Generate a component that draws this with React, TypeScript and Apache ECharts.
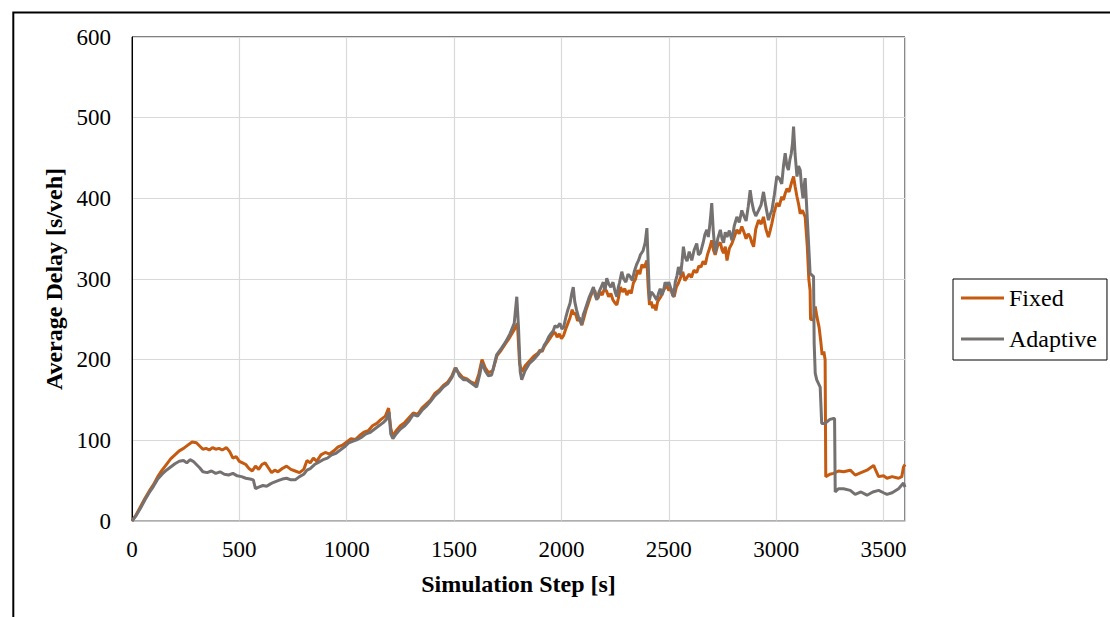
import React, { useEffect, useRef } from "react";
import * as echarts from "echarts";

const xTicks = [0, 500, 1000, 1500, 2000, 2500, 3000, 3500];
const yTicks = [0, 100, 200, 300, 400, 500, 600];
const seriesNames = ["Fixed", "Adaptive"];

const fixedData: [number, number][] = [
  [0,0],[20,8],[40,18],[60,28],[80,37],[100,45],[120,55],[140,63],[160,70],[180,77],[200,82],[220,87],[240,90],[260,94],[280,98],[300,97],[315,93],[330,89],[345,90],[360,88],[375,91],[390,89],[405,90],[420,88],[440,91],[455,86],[470,78],[485,80],[500,74],[515,72],[530,70],[545,65],[560,62],[575,68],[590,64],[605,70],[620,72],[635,66],[650,60],[665,63],[680,61],[700,65],[720,68],[740,64],[760,62],[780,60],[800,64],[815,75],[830,72],[845,78],[860,74],[880,82],[900,85],[920,83],[940,87],[960,92],[980,94],[1000,98],[1020,102],[1040,101],[1060,106],[1080,110],[1100,112],[1120,118],[1140,121],[1160,126],[1180,130],[1195,140],[1205,115],[1215,105],[1230,112],[1250,118],[1270,122],[1290,128],[1310,134],[1330,132],[1350,140],[1370,145],[1390,150],[1410,158],[1430,162],[1450,168],[1470,172],[1490,180],[1505,190],[1520,184],[1540,178],[1560,176],[1580,172],[1600,170],[1615,182],[1630,200],[1645,190],[1660,184],[1680,186],[1700,205],[1720,212],[1740,220],[1760,228],[1780,237],[1795,245],[1805,195],[1815,185],[1830,192],[1850,198],[1870,204],
  [1890,208],[1900,212],[1910,210],[1920,216],[1930,220],[1940,224],[1950,228],[1960,232],[1970,234],[1980,228],[1990,232],[2000,226],[2010,230],[2020,238],[2030,245],[2040,252],[2050,262],[2058,256],[2065,258],[2075,248],[2085,252],[2095,243],[2105,252],[2115,262],[2125,270],[2135,278],[2145,284],[2155,286],[2163,278],[2170,276],[2180,284],[2190,280],[2200,288],[2210,285],[2220,278],[2230,282],[2240,274],[2250,270],[2258,268],[2265,276],[2275,290],[2285,284],[2295,288],[2305,280],[2315,286],[2325,282],[2335,295],[2345,300],[2355,311],[2365,306],[2375,318],[2385,314],[2398,323],[2404,290],[2410,268],[2418,272],[2425,264],[2433,268],[2440,261],[2448,272],[2455,275],[2463,278],[2470,284],[2480,288],[2490,292],[2500,286],[2510,288],[2518,280],[2525,278],[2535,290],[2545,295],[2555,302],[2565,309],[2575,298],[2585,302],[2595,306],[2605,302],[2617,311],[2630,308],[2640,316],[2650,315],[2660,322],[2670,318],[2680,330],[2690,338],[2700,348],[2708,336],[2716,330],[2728,342],[2740,345],[2748,336],[2755,332],[2763,340],[2771,323],[2782,338],[2794,344],[2805,352],[2817,361],[2828,356],[2840,365],[2850,358],[2860,350],[2870,356],[2879,352],[2887,345],[2895,340],[2905,362],[2918,373],[2930,368],[2941,377],[2952,362],[2964,352],[2972,360],[2980,369],[2990,382],[3003,394],[3014,390],[3026,402],[3034,398],[3042,406],[3050,412],[3060,408],[3070,418],[3081,427],[3088,415],[3097,402],[3105,392],[3112,381],[3122,385],[3135,377],
  [3145,340],[3152,300],[3158,286],[3160,250],[3174,249],[3182,266],[3190,253],[3200,240],[3208,222],[3214,206],[3222,210],[3228,200],[3231,55],[3250,58],[3267,59],[3290,62],[3314,61],[3345,63],[3368,57],[3395,60],[3423,63],[3454,69],[3465,62],[3477,55],[3500,56],[3516,53],[3540,55],[3570,53],[3585,55],[3593,67],[3600,70]
];

const adaptiveData: [number, number][] = [
  [0,0],[20,7],[40,16],[60,26],[80,35],[100,43],[120,52],[140,58],[160,63],[180,67],[200,71],[220,74],[240,75],[255,72],[270,76],[285,74],[300,70],[315,66],[330,61],[350,60],[370,62],[390,59],[410,61],[430,58],[450,57],[470,59],[490,56],[510,55],[530,53],[550,52],[565,51],[575,40],[590,42],[610,44],[627,43],[645,46],[660,48],[680,50],[700,52],[720,53],[740,51],[760,51],[780,55],[800,58],[815,63],[830,65],[850,70],[870,73],[890,76],[910,78],[930,82],[950,84],[970,88],[990,92],[1010,97],[1030,99],[1050,101],[1070,104],[1090,108],[1110,110],[1130,114],[1150,118],[1170,122],[1185,126],[1197,135],[1205,108],[1215,102],[1230,108],[1250,114],[1270,118],[1290,124],[1310,132],[1330,130],[1350,137],[1370,142],[1390,148],[1410,155],[1430,160],[1450,166],[1470,170],[1490,178],[1509,190],[1525,180],[1545,175],[1559,175],[1580,171],[1605,166],[1620,182],[1630,196],[1645,186],[1660,180],[1675,181],[1698,206],[1720,214],[1740,222],[1760,232],[1780,245],[1792,278],[1800,240],[1808,185],[1815,175],[1830,186],[1850,195],[1870,200],
  [1890,206],[1900,210],[1910,212],[1920,218],[1930,222],[1940,228],[1950,232],[1962,236],[1970,242],[1980,240],[1993,245],[2002,238],[2010,240],[2020,252],[2030,262],[2040,270],[2048,282],[2055,290],[2062,272],[2070,262],[2080,252],[2088,248],[2094,243],[2102,256],[2110,262],[2120,270],[2130,278],[2140,284],[2149,290],[2157,280],[2165,274],[2175,284],[2185,290],[2195,296],[2203,286],[2211,301],[2220,294],[2230,290],[2240,296],[2250,284],[2258,278],[2265,290],[2270,295],[2281,309],[2290,300],[2300,296],[2310,306],[2320,303],[2330,298],[2340,310],[2350,318],[2359,323],[2368,330],[2380,335],[2390,345],[2398,363],[2404,320],[2410,274],[2418,284],[2425,282],[2435,278],[2444,274],[2452,282],[2460,288],[2468,280],[2475,285],[2483,296],[2491,292],[2500,296],[2510,288],[2516,282],[2522,278],[2530,296],[2538,304],[2545,315],[2550,308],[2555,305],[2562,322],[2568,340],[2575,328],[2585,322],[2595,334],[2607,323],[2618,336],[2630,344],[2638,330],[2647,332],[2655,340],[2660,345],[2668,355],[2677,361],[2684,352],[2690,365],[2695,378],[2700,394],[2707,360],[2716,332],[2728,350],[2740,361],[2748,350],[2755,345],[2763,358],[2771,352],[2782,360],[2794,348],[2805,366],[2817,377],[2828,370],[2840,385],[2850,378],[2860,372],[2870,390],[2879,410],[2887,395],[2895,385],[2905,378],[2918,385],[2930,392],[2941,408],[2952,390],[2964,373],[2972,380],[2980,385],[2992,405],[3003,427],[3014,425],[3026,418],[3034,440],[3042,456],[3050,440],[3057,435],[3064,448],[3070,455],[3076,468],[3081,489],[3088,455],[3097,427],[3104,440],[3112,435],[3118,415],[3125,400],[3130,415],[3135,425],
  [3143,385],[3151,344],[3158,307],[3174,303],[3177,220],[3182,183],[3189,175],[3205,166],[3212,121],[3228,121],[3250,126],[3267,127],[3272,127],[3275,36],[3290,40],[3314,40],[3345,38],[3368,33],[3395,36],[3423,32],[3450,36],[3477,38],[3500,35],[3516,33],[3540,35],[3570,40],[3593,47],[3600,42]
];

const FONT = "Times New Roman, Liberation Serif, serif";

export default function App() {
  const ref = useRef<HTMLDivElement>(null);
  useEffect(() => {
    if (!ref.current) return;
    const chart = echarts.init(ref.current, undefined, { renderer: "svg" });
    chart.setOption({
      animation: false,
      backgroundColor: "#fff",
      textStyle: { fontFamily: FONT },
      graphic: [
        {
          type: "rect",
          shape: { x: 13.3, y: 12.5, width: 1200, height: 700 },
          style: { fill: "none", stroke: "#000", lineWidth: 2 },
          silent: true,
        },
      ],
      grid: {
        left: 132,
        top: 37,
        right: 1110 - 905,
        bottom: 617 - 521,
        show: true,
        borderColor: "#000",
        borderWidth: 1,
        backgroundColor: "transparent",
      },
      legend: {
        orient: "vertical",
        left: 953,
        top: 279,
        icon: "rect",
        itemWidth: 43,
        itemHeight: 3,
        itemGap: 17,
        padding: [7, 10, 9, 8],
        borderColor: "#000",
        borderWidth: 1,
        data: seriesNames,
        textStyle: { fontFamily: FONT, fontSize: 24, color: "#000", lineHeight: 24 },
      },
      xAxis: {
        type: "value",
        min: xTicks[0],
        max: 3600,
        interval: xTicks[1] - xTicks[0],
        name: "Simulation Step [s]",
        nameLocation: "middle",
        nameGap: 51,
        nameTextStyle: { fontFamily: FONT, fontSize: 24, fontWeight: "bold", color: "#000" },
        axisLine: { show: true, lineStyle: { color: "#bfbfbf", width: 1.5 } },
        axisTick: { show: false },
        axisLabel: {
          showMaxLabel: false,
          margin: 17,
          fontFamily: FONT,
          fontSize: 23,
          color: "#000",
          formatter: (v: number) => String(v),
        },
        splitLine: { show: true, lineStyle: { color: "#d9d9d9", width: 1.2 } },
      },
      yAxis: {
        type: "value",
        min: yTicks[0],
        max: yTicks[yTicks.length - 1],
        interval: yTicks[1] - yTicks[0],
        name: "Average Delay [s/veh]",
        nameLocation: "middle",
        nameGap: 63,
        nameTextStyle: { fontFamily: FONT, fontSize: 24, fontWeight: "bold", color: "#000" },
        axisLine: { show: true, lineStyle: { color: "#000", width: 1 } },
        axisTick: { show: false },
        axisLabel: {
          margin: 21,
          fontFamily: FONT,
          fontSize: 23,
          color: "#000",
          formatter: (v: number) => String(v),
        },
        splitLine: { show: true, lineStyle: { color: "#d9d9d9", width: 1.2 } },
      },
      series: [
        {
          name: seriesNames[0],
          type: "line",
          data: fixedData,
          showSymbol: false,
          symbol: "none",
          lineStyle: { color: "#C55A11", width: 3 },
          itemStyle: { color: "#C55A11" },
        },
        {
          name: seriesNames[1],
          type: "line",
          data: adaptiveData,
          showSymbol: false,
          symbol: "none",
          lineStyle: { color: "#767171", width: 3 },
          itemStyle: { color: "#767171" },
        },
      ],
    });
    return () => chart.dispose();
  }, []);
  return (
    <div
      ref={ref}
      style={{ position: "fixed", left: 0, top: 0, width: 1110, height: 617, background: "#fff" }}
    />
  );
}
